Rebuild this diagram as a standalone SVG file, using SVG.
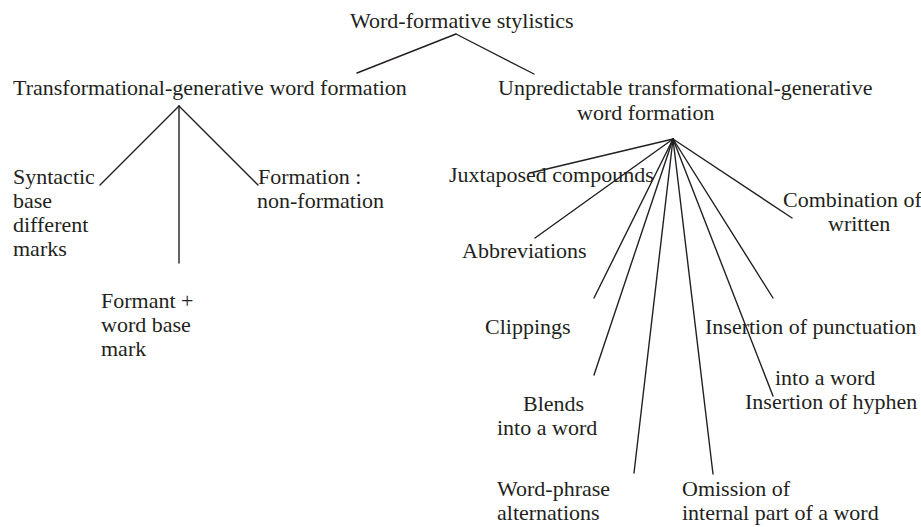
<svg xmlns="http://www.w3.org/2000/svg" width="921" height="527" viewBox="0 0 921 527">
<style>
text{font-family:"Liberation Serif","Times New Roman",serif;font-size:22px;fill:#231f20}
.c line{stroke:#231f20;stroke-width:1.4;stroke-linecap:round}
</style>
<rect width="921" height="527" fill="#fff"/>
<g class="c" id="connectors">
<line x1="456" y1="34" x2="357" y2="73"/>
<line x1="456" y1="34" x2="534" y2="74"/>
<line x1="179" y1="106" x2="100" y2="185"/>
<line x1="179" y1="106" x2="179" y2="263"/>
<line x1="179" y1="106" x2="258" y2="185"/>
<line x1="673" y1="139" x2="530" y2="173"/>
<line x1="673" y1="139" x2="535" y2="238"/>
<line x1="673" y1="139" x2="594" y2="298"/>
<line x1="673" y1="139" x2="594" y2="375"/>
<line x1="673" y1="139" x2="634" y2="473"/>
<line x1="673" y1="139" x2="713" y2="474"/>
<line x1="673" y1="139" x2="773" y2="396"/>
<line x1="673" y1="139" x2="773" y2="298"/>
<line x1="673" y1="139" x2="792" y2="218"/>
</g>
<g id="root"><text x="350" y="28">Word-formative stylistics</text></g>
<g id="tgwf"><text x="13" y="95">Transformational-generative word formation</text></g>
<g id="utgwf"><text x="498" y="95">Unpredictable transformational-generative</text><text x="577" y="120">word formation</text></g>
<g id="syntactic"><text x="13" y="184">Syntactic</text><text x="13" y="208">base</text><text x="13" y="232">different</text><text x="13" y="256">marks</text></g>
<g id="formant"><text x="101" y="308">Formant +</text><text x="101" y="332">word base</text><text x="101" y="356">mark</text></g>
<g id="formation"><text x="258" y="184">Formation :</text><text x="257" y="208">non-formation</text></g>
<g id="juxtaposed"><text x="449" y="182">Juxtaposed compounds</text></g>
<g id="abbreviations"><text x="462" y="258">Abbreviations</text></g>
<g id="clippings"><text x="485" y="334">Clippings</text></g>
<g id="blends"><text x="523" y="411">Blends</text><text x="497" y="435">into a word</text></g>
<g id="wordphrase"><text x="497" y="496">Word-phrase</text><text x="497" y="520">alternations</text></g>
<g id="omission"><text x="682" y="496">Omission of</text><text x="682" y="520">internal part of a word</text></g>
<g id="hyphen"><text x="775" y="385">into a word</text><text x="745" y="409">Insertion of hyphen</text></g>
<g id="punctuation"><text x="705" y="334">Insertion of punctuation</text></g>
<g id="combination"><text x="783" y="207">Combination of</text><text x="828" y="231">written</text></g>
</svg>
